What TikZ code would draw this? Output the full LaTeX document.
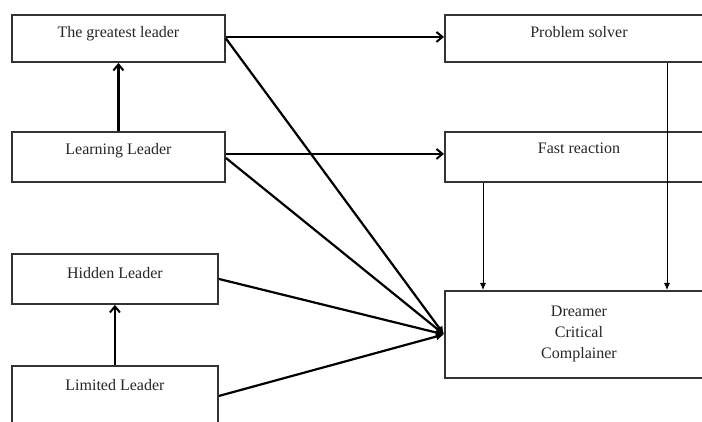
\documentclass[tikz,border=0pt]{standalone}
\usepackage{fontspec}
\setmainfont{Liberation Serif}
\usetikzlibrary{arrows.meta}
\begin{document}
\begin{tikzpicture}[x=1pt,y=-1pt,
  box/.style={draw=black!80, line width=1.9pt, inner sep=0pt, anchor=north west,
    font=\fontsize{16}{21}\selectfont, text=black!85},
  thick arrow/.style={line width=2.2pt, -{Straight Barb[length=6pt,width=10pt,line width=2pt]}},
  conv arrow/.style={line width=2.2pt, -{Latex[length=8pt,width=8pt]}},
  thin arrow/.style={line width=0.9pt, -{Latex[length=7pt,width=6pt]}}]
\path[use as bounding box] (0,0) rectangle (702,422);
\clip (0,0) rectangle (702,422);
\fill[white] (0,0) rectangle (702,422);
% left column
\node[box, minimum width=213pt, text height=23pt, text depth=24pt] (gl) at (11,14) {The greatest leader};
\node[box, minimum width=213pt, text height=23pt, text depth=27pt] (ll) at (11,131) {Learning Leader};
\node[box, minimum width=206pt, text height=25pt, text depth=25pt] (hl) at (11,253) {Hidden Leader};
\node[box, minimum width=206pt, text height=25pt, text depth=35pt] (ml) at (11,365) {Limited Leader};
% right column
\node[box, minimum width=268pt, text height=23pt, text depth=24pt] (ps) at (444,14) {Problem solver};
\node[box, minimum width=268pt, text height=22pt, text depth=28pt] (fr) at (444,131) {Fast reaction};
\node[box, minimum width=268pt, minimum height=87pt, align=center] (dm) at (444,290) {Dreamer\\Critical\\Complainer};
% helper coordinates
\coordinate (px) at (667,0);
\coordinate (fx) at (483,0);
% connectors
\draw[thick arrow] (ll.north) -- (gl.south);
\draw[thick arrow] (ml.north) -- (hl.south);
\draw[thick arrow] ([yshift=1.5pt]gl.east) -- ([yshift=1.5pt]ps.west);
\draw[thick arrow] ([yshift=3pt]ll.east) -- ([yshift=3pt]fr.west);
\draw[conv arrow] (gl.east) -- (dm.west);
\draw[conv arrow] ([yshift=-1pt]ll.east) -- (dm.west);
\draw[conv arrow] (hl.east) -- (dm.west);
\draw[conv arrow] (ml.east) -- (dm.west);
\draw[thin arrow] (ps.south -| px) -- (dm.north -| px);
\draw[thin arrow] (fr.south -| fx) -- (dm.north -| fx);
\end{tikzpicture}
\end{document}
